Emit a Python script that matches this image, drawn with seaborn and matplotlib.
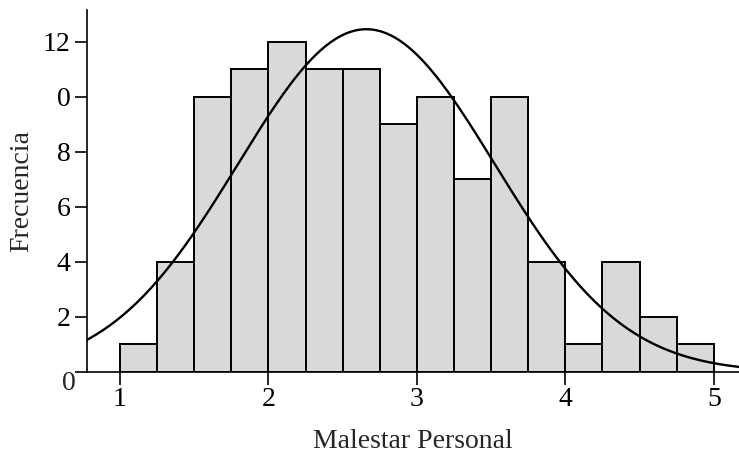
import numpy as np
import matplotlib
matplotlib.use("Agg")
import matplotlib.pyplot as plt
import seaborn as sns

# bin edges and counts
bin_edges = [1.0, 1.25, 1.5, 1.75, 2.0, 2.25, 2.5, 2.75, 3.0,
             3.25, 3.5, 3.75, 4.0, 4.25, 4.5, 4.75, 5.0]
counts = [1, 4, 10, 11, 12, 11, 11, 9, 10, 7, 10, 4, 1, 4, 2, 1]

# fitted normal curve parameters
curve_mean = 2.66
curve_sd = 0.865

y_ticks = [0, 2, 4, 6, 8, 10, 12]
y_tick_labels = ["", "2", "4", "6", "8", "0", "12"]
x_ticks = [1, 2, 3, 4, 5]

sns.set_style("white")
plt.rcParams['font.family'] = ['Liberation Serif', 'DejaVu Serif']
fs = 20

fig = plt.figure(figsize=(7.39, 4.59), dpi=100)
ax = fig.add_axes([87/739, 87/459, 1 - 87/739, 362/459])

centers = [(a + b) / 2 for a, b in zip(bin_edges[:-1], bin_edges[1:])]
sns.histplot(x=centers, weights=counts, bins=bin_edges, ax=ax,
             color="#d9d9d9", edgecolor="black", linewidth=1.4, alpha=1)

# normal curve scaled to counts
n = sum(counts)
width = bin_edges[1] - bin_edges[0]
xs = np.linspace(0.7, 5.3, 300)
ys = n * width / (curve_sd * np.sqrt(2 * np.pi)) * np.exp(-0.5 * ((xs - curve_mean) / curve_sd) ** 2)
sns.lineplot(x=xs, y=ys, ax=ax, color="black", linewidth=1.7)

ax.set_xlim(0.778, 5.17)
ax.set_ylim(0, 13.15)
ax.set_xticks(x_ticks)
ax.set_xticklabels([str(t) for t in x_ticks])
ax.set_yticks(y_ticks)
ax.set_yticklabels(y_tick_labels)
ax.tick_params(axis="both", which="major", direction="out", length=9, width=1.2,
               labelsize=fs, colors="black", left=True, bottom=True)
ax.tick_params(axis="x", pad=2)
ax.tick_params(axis="y", pad=3)

for s in ["top", "right"]:
    ax.spines[s].set_visible(False)
for s in ["left", "bottom"]:
    ax.spines[s].set_color("black")
    ax.spines[s].set_linewidth(1.2)

ax.text(-11/652, -12/362, "0", transform=ax.transAxes, fontsize=fs,
        ha="right", va="center")

ax.set_xlabel("Malestar Personal", fontsize=fs, labelpad=12)
ax.set_ylabel("Frecuencia", fontsize=fs, labelpad=6)

fig.savefig("out.png", dpi=100)
